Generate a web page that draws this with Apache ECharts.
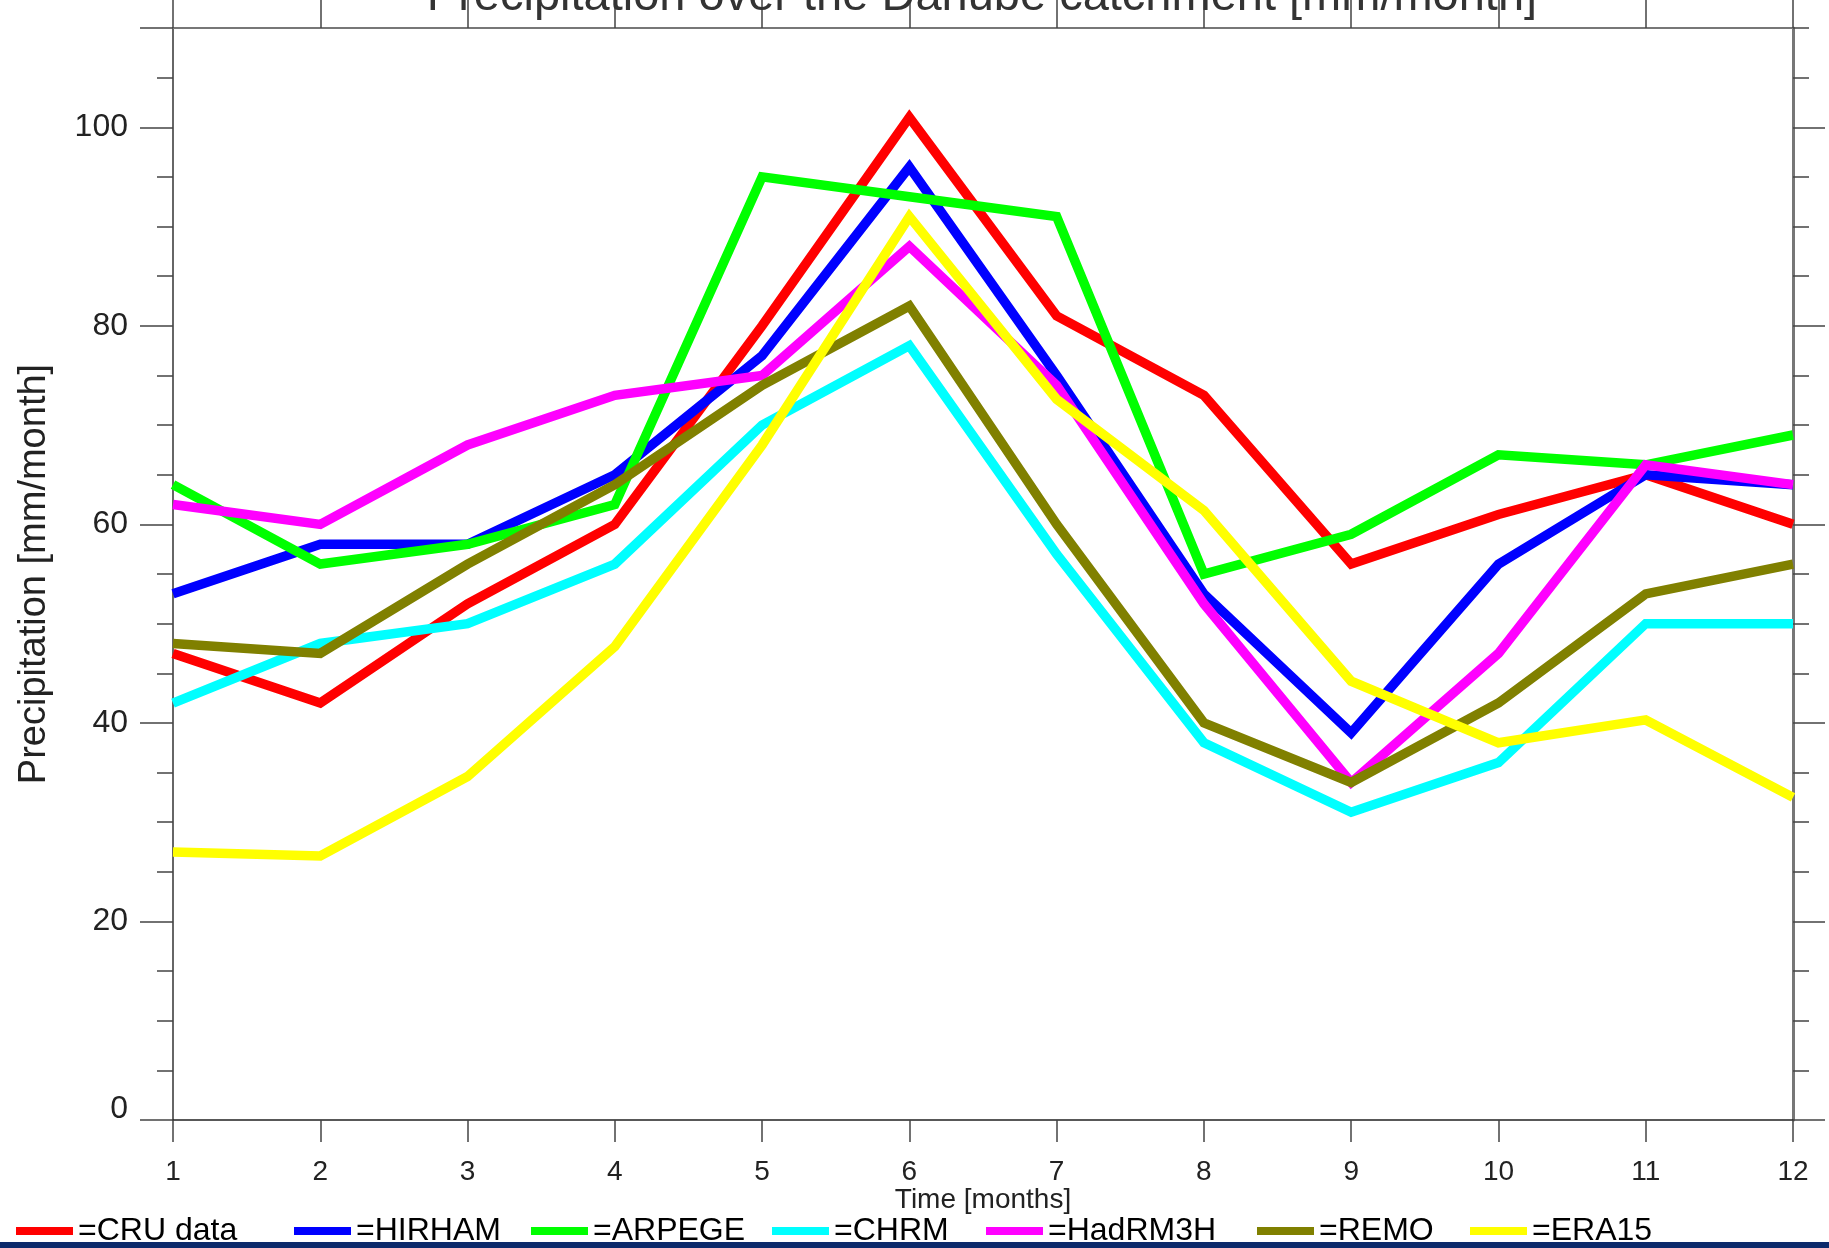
<!DOCTYPE html>
<html>
<head>
<meta charset="utf-8">
<script src="https://cdn.jsdelivr.net/npm/echarts@6/dist/echarts.min.js"></script>
<style>
  html, body { margin: 0; padding: 0; background: #fff; }
  #chart { width: 1829px; height: 1248px; }
</style>
</head>
<body>
<div id="chart"></div>
<script>
const months = [1, 2, 3, 4, 5, 6, 7, 8, 9, 10, 11, 12];

const cru     = [47, 42, 52, 60, 80, 101, 81, 73, 56, 61, 65, 60];
const hirham  = [53, 58, 58, 65, 77, 96, 75, 53, 39, 56, 65, 64];
const arpege  = [64, 56, 58, 62, 95, 93, 91, 55, 59, 67, 66, 69];
const chrm    = [42, 48, 50, 56, 70, 78, 57, 38, 31, 36, 50, 50];
const hadrm3h = [62, 60, 68, 73, 75, 88, 74, 52, 34, 47, 66, 64];
const remo    = [48, 47, 56, 64, 74, 82, 60, 40, 34, 42, 53, 56];
const era15   = [27, 26.6, 34.6, 47.7, 68, 91, 72.6, 61.4, 44.2, 38, 40.3, 32.5];

const yLabels = [0, 20, 40, 60, 80, 100];
const leftMajorTicks = [0, 20, 40, 60, 80, 100, 110];

const SERIES = [
  { name: 'CRU data', data: cru, color: '#ff0000' },
  { name: 'HIRHAM', data: hirham, color: '#0000ff' },
  { name: 'ARPEGE', data: arpege, color: '#00ff00' },
  { name: 'CHRM', data: chrm, color: '#00ffff' },
  { name: 'HadRM3H', data: hadrm3h, color: '#ff00ff' },
  { name: 'REMO', data: remo, color: '#808000' },
  { name: 'ERA15', data: era15, color: '#ffff00' },
];

// left edge of each legend entry, matching the original row
const legendLefts = [16, 294, 531, 772, 986, 1257, 1470];

const FONT = "'Liberation Sans', Arial, sans-serif";
const tickStyle = { color: '#444', width: 1.5 };

const chart = echarts.init(document.getElementById('chart'));

chart.setOption({
  animation: false,
  textStyle: { fontFamily: FONT, color: '#222' },
  grid: { left: 173, right: 36, top: 28, bottom: 128, containLabel: false },
  xAxis: [
    {
      type: 'value', position: 'bottom', min: 1, max: 12, interval: 1,
      name: 'Time [months]', nameLocation: 'middle', nameGap: 66, nameMoveOverlap: false,
      nameTextStyle: { fontSize: 28, color: '#222', fontFamily: FONT },
      axisLine: { onZero: false, lineStyle: { color: '#222', width: 1.5 } },
      axisTick: { inside: false, length: 22, lineStyle: tickStyle },
      axisLabel: { margin: 38, fontSize: 28, color: '#222', fontFamily: FONT },
      splitLine: { show: false },
    },
    {
      type: 'value', position: 'top', min: 1, max: 12, interval: 1,
      axisLine: { onZero: false, lineStyle: { color: '#777', width: 2 } },
      axisTick: { inside: false, length: 28, lineStyle: tickStyle },
      axisLabel: { show: false },
      splitLine: { show: false },
    },
  ],
  yAxis: [
    {
      type: 'value', position: 'left', min: 0, max: 110, interval: 5,
      name: 'Precipitation [mm/month]', nameLocation: 'middle', nameGap: 119,
      nameTextStyle: { fontSize: 38, color: '#222', fontFamily: FONT },
      axisLine: { show: true, onZero: false, lineStyle: { color: '#333', width: 1.5 } },
      axisTick: { inside: false, length: 16, lineStyle: tickStyle },
      axisLabel: { show: false },
      splitLine: { show: false },
    },
    {
      type: 'value', position: 'left', min: 0, max: 110, interval: 20,
      axisLine: { show: false, onZero: false },
      axisTick: { show: true, inside: false, length: 33, customValues: leftMajorTicks, lineStyle: tickStyle },
      axisLabel: {
        margin: 45, fontSize: 32, color: '#222', fontFamily: FONT, customValues: yLabels,
        formatter: v => (v === 0 ? '{z|0}' : String(v)),
        rich: { z: { fontSize: 32, fontFamily: FONT, color: '#222', padding: [0, 0, 22, 0] } },
      },
      splitLine: { show: false },
    },
    {
      type: 'value', position: 'right', min: 0, max: 110, interval: 5,
      axisLine: { show: true, onZero: false, lineStyle: { color: '#777', width: 3 } },
      axisTick: { inside: false, length: 16, lineStyle: tickStyle },
      axisLabel: { show: false },
      splitLine: { show: false },
    },
    {
      type: 'value', position: 'right', min: 0, max: 110, interval: 20,
      axisLine: { show: false, onZero: false },
      axisTick: { show: true, inside: false, length: 32, customValues: yLabels, lineStyle: tickStyle },
      axisLabel: { show: false },
      splitLine: { show: false },
    },
  ],
  legend: SERIES.map((s, i) => ({
    left: legendLefts[i], top: 1215, padding: 0,
    icon: 'rect', itemWidth: 57, itemHeight: 8,
    formatter: '={name}',
    textStyle: { fontSize: 32, color: '#000', fontFamily: FONT },
    data: [s.name],
  })),
  graphic: [
    {
      type: 'text', x: 982, y: 21, z: 50,
      style: {
        text: 'Precipitation over the Danube catchment [mm/month]',
        fill: '#333', font: '47px ' + FONT,
        textAlign: 'center', textVerticalAlign: 'bottom',
      },
    },
    {
      type: 'rect', z: 100,
      shape: { x: 0, y: 1242, width: 1829, height: 6 },
      style: { fill: '#0c2a6b' },
    },
  ],
  series: SERIES.map(s => ({
    name: s.name,
    type: 'line',
    xAxisIndex: 0,
    yAxisIndex: 0,
    color: s.color,
    symbol: 'none',
    lineStyle: { width: 9.5, color: s.color, join: 'miter', cap: 'butt' },
    data: months.map((m, i) => [m, s.data[i]]),
  })),
});
</script>
</body>
</html>
